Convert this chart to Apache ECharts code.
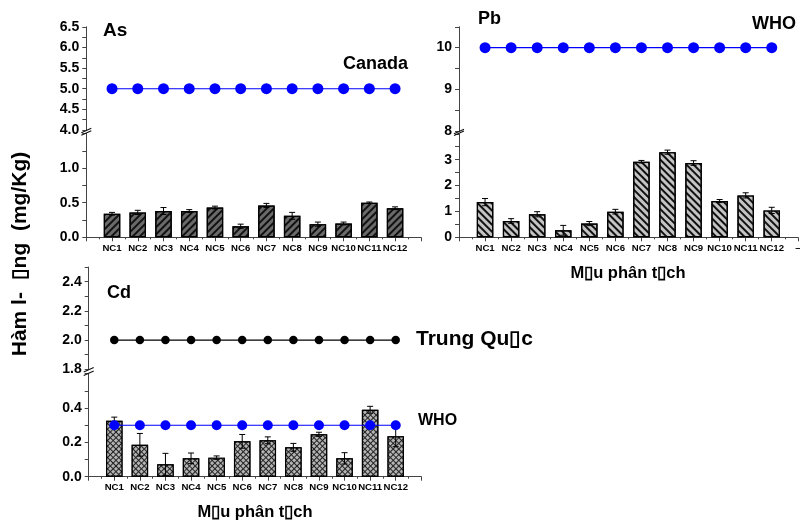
<!DOCTYPE html>
<html>
<head>
<meta charset="utf-8">
<script src="https://cdn.jsdelivr.net/npm/echarts@6/dist/echarts.min.js"></script>
<style>html,body{margin:0;padding:0;background:#fff}#c{width:800px;height:521px}</style>
</head>
<body>
<div id="c"></div>
<script>
// ---- data ----
const categories = ['NC1','NC2','NC3','NC4','NC5','NC6','NC7','NC8','NC9','NC10','NC11','NC12'];
const asValues = [0.34,0.36,0.38,0.38,0.43,0.16,0.46,0.31,0.19,0.20,0.50,0.42];
const asErrors = [0.02,0.03,0.05,0.02,0.02,0.03,0.03,0.05,0.03,0.02,0.01,0.02];
const pbValues = [1.36,0.63,0.89,0.27,0.53,0.99,2.92,3.29,2.87,1.40,1.62,1.04];
const pbErrors = [0.14,0.09,0.10,0.19,0.08,0.09,0.05,0.08,0.09,0.06,0.10,0.12];
const cdValues = [0.326,0.186,0.072,0.107,0.111,0.206,0.212,0.171,0.247,0.107,0.390,0.235];
const cdErrors = [0.021,0.066,0.064,0.031,0.010,0.040,0.020,0.023,0.012,0.033,0.020,0.060];
const canadaAs = [5.0,5.0,5.0,5.0,5.0,5.0,5.0,5.0,5.0,5.0,5.0,5.0];
const whoPb = [10,10,10,10,10,10,10,10,10,10,10,10];
const chinaCd = [2.0,2.0,2.0,2.0,2.0,2.0,2.0,2.0,2.0,2.0,2.0,2.0];
const whoCd = [0.3,0.3,0.3,0.3,0.3,0.3,0.3,0.3,0.3,0.3,0.3,0.3];
const asUpperTicks = [4.0,4.5,5.0,5.5,6.0,6.5];
const asLowerTicks = [0.0,0.5,1.0];
const pbUpperTicks = [8,9,10];
const pbLowerTicks = [0,1,2,3];
const cdUpperTicks = [1.8,2.0,2.2,2.4];
const cdLowerTicks = [0.0,0.2,0.4];

// ---- layout ----
const FONT = 'Liberation Sans, Arial, sans-serif';
const panels = {
  as: {left: 86.3, width: 334.5, upTop: 26.8, upBot: 130.0, loTop: 133.5, loBot: 237.3},
  pb: {left: 459.0, width: 338.8, upTop: 26.8, upBot: 131.0, loTop: 133.8, loBot: 237.3},
  cd: {left: 88.7, width: 332.6, upTop: 267.1, upBot: 369.3, loTop: 373.7, loBot: 476.7}
};
const grids = [];
['as','pb','cd'].forEach(k => {
  const p = panels[k];
  grids.push({left: p.left, top: p.upTop, width: p.width, height: p.upBot - p.upTop, outerBoundsMode: 'none', containLabel: false});
  grids.push({left: p.left, top: p.loTop, width: p.width, height: p.loBot - p.loTop, outerBoundsMode: 'none', containLabel: false});
});

const pairs = (vals) => vals.map((v, i) => [i + 1, v]);
const triples = (vals, errs) => vals.map((v, i) => [i + 1, v, errs[i]]);

function xAxisDef(gridIndex, showAxis, endLabel) {
  return {
    type: 'value', gridIndex, min: 0, max: 13, interval: 1, show: showAxis,
    splitLine: {show: false},
    axisLine: {show: true, onZero: false, lineStyle: {color: '#444', width: 1}},
    axisTick: {show: true, length: 4, lineStyle: {color: '#444'}},
    minorTick: {show: true, splitNumber: 2, length: 2, lineStyle: {color: '#444'}},
    axisLabel: {
      show: true, margin: 6, color: '#000', fontFamily: FONT, fontWeight: 'bold', fontSize: 9.6,
      showMinLabel: true, showMaxLabel: true, hideOverlap: false,
      formatter: v => (v >= 1 && v <= 12) ? categories[v - 1] : (v === 13 ? (endLabel || '') : '')
    }
  };
}
function yAxisDef(gridIndex, min, max, interval, ticks, decimals) {
  return {
    type: 'value', gridIndex, min, max, interval,
    splitLine: {show: false},
    axisLine: {show: true, onZero: false, lineStyle: {color: '#444', width: 1}},
    axisTick: {show: true, length: 4, lineStyle: {color: '#444'}},
    minorTick: {show: false},
    axisLabel: {
      show: true, margin: 7, color: '#000', fontFamily: FONT, fontWeight: 'bold', fontSize: 14,
      customValues: ticks,
      formatter: v => Number(v).toFixed(decimals)
    }
  };
}

const xAxes = [
  xAxisDef(0, false), xAxisDef(1, true),
  xAxisDef(2, false), xAxisDef(3, true, '\u2013'),
  xAxisDef(4, false), xAxisDef(5, true)
];
const yAxes = [
  yAxisDef(0, 4.0, 6.5, 0.25, asUpperTicks, 1),
  yAxisDef(1, 0, 1.5, 0.25, asLowerTicks, 1),
  yAxisDef(2, 8, 10.5, 0.5, pbUpperTicks, 0),
  yAxisDef(3, 0, 4, 0.5, pbLowerTicks, 0),
  yAxisDef(4, 1.8, 2.5, 0.1, cdUpperTicks, 1),
  yAxisDef(5, 0, 0.6, 0.1, cdLowerTicks, 1)
];

function errSeries(idx, vals, errs) {
  return {
    type: 'custom', xAxisIndex: idx, yAxisIndex: idx, z: 5,
    data: triples(vals, errs),
    renderItem: (params, api) => {
      const x = api.value(0), v = api.value(1), e = api.value(2);
      const t = api.coord([x, v + e]);
      const b = api.coord([x, v - e]);
      const hw = 3;
      const st = {stroke: '#000', lineWidth: 1};
      return {type: 'group', children: [
        {type: 'line', shape: {x1: t[0], y1: t[1], x2: b[0], y2: b[1]}, style: st},
        {type: 'line', shape: {x1: t[0] - hw, y1: t[1], x2: t[0] + hw, y2: t[1]}, style: st},
        {type: 'line', shape: {x1: b[0] - hw, y1: b[1], x2: b[0] + hw, y2: b[1]}, style: st}
      ]};
    }
  };
}
function barSeries(idx, vals, fill, decal) {
  return {
    type: 'bar', xAxisIndex: idx, yAxisIndex: idx, barWidth: 16.5, z: 2,
    data: pairs(vals),
    itemStyle: {color: fill, borderColor: '#000', borderWidth: 1.2, decal},
    emphasis: {disabled: true}
  };
}
function lineSeries(idx, vals, color, size) {
  return {
    type: 'line', xAxisIndex: idx, yAxisIndex: idx, z: 10,
    data: pairs(vals), symbol: 'circle', symbolSize: size,
    lineStyle: {color, width: 1.1}, itemStyle: {color},
    emphasis: {disabled: true}, animation: false
  };
}

const series = [
  barSeries(1, asValues, '#6a6a6a', {symbol: 'rect', symbolSize: 1, color: '#111', dashArrayX: [1, 0], dashArrayY: [1.1, 2.4], rotation: -Math.PI / 4}),
  errSeries(1, asValues, asErrors),
  lineSeries(0, canadaAs, '#0000ff', 11),
  barSeries(3, pbValues, '#c4c4c4', {symbol: 'rect', symbolSize: 1, color: '#111', dashArrayX: [1, 0], dashArrayY: [1.1, 2.4], rotation: Math.PI / 4}),
  errSeries(3, pbValues, pbErrors),
  lineSeries(2, whoPb, '#0000ff', 11),
  barSeries(5, cdValues, '#222', {symbol: 'rect', symbolSize: 1, color: '#b4b4b4', dashArrayX: [2.4, 1], dashArrayY: [2.4, 1], rotation: Math.PI / 4}),
  errSeries(5, cdValues, cdErrors),
  lineSeries(4, chinaCd, '#000', 8.5),
  lineSeries(5, whoCd, '#0000ff', 10)
];

// axis break marks
const graphic = [];
['as','pb','cd'].forEach(k => {
  const p = panels[k];
  graphic.push({type: 'rect', shape: {x: p.left - 1, y: p.upBot + 0.5, width: 2, height: p.loTop - p.upBot - 1}, style: {fill: '#fff'}, z: 90});
  [p.upBot + 0.5, p.loTop - 0.5].forEach(y => {
    graphic.push({type: 'line', z: 95, shape: {x1: p.left - 5, y1: y + 2.2, x2: p.left + 5, y2: y - 2.2}, style: {stroke: '#111', lineWidth: 1.1}});
  });
});
function txt(text, x, y, size, align) {
  graphic.push({type: 'text', x, y, z: 100, style: {text, font: 'bold ' + size + 'px ' + FONT, fill: '#000', align: align || 'left', verticalAlign: 'middle'}});
}
txt('As', 103, 31, 19);
txt('Canada', 343, 64, 18);
txt('Pb', 478, 19, 18);
txt('WHO', 752, 24, 18);
txt('Cd', 107, 293, 18);
txt('Trung Qu\u25AFc', 416, 339, 21);
txt('WHO', 418, 421, 16);
txt('M\u25AFu phân t\u25AFch', 628, 273, 16.5, 'center');
txt('M\u25AFu phân t\u25AFch', 255, 512, 16.5, 'center');
graphic.push({type: 'text', x: 20, y: 254, rotation: Math.PI / 2, z: 100,
  style: {text: 'Hàm l-  \u25AFng  (mg/Kg)', font: 'bold 21px ' + FONT, fill: '#000', align: 'center', verticalAlign: 'middle'}});

const chart = echarts.init(document.getElementById('c'), null, {renderer: 'canvas'});
chart.setOption({
  animation: false,
  backgroundColor: '#fff',
  grid: grids,
  xAxis: xAxes,
  yAxis: yAxes,
  series,
  graphic
});
</script>
</body>
</html>
